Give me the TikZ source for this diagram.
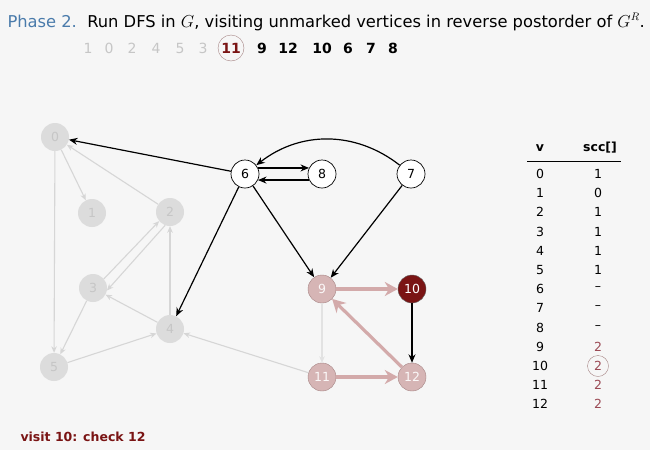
\documentclass[tikz,border=0pt]{standalone}
\usepackage{fontspec}
\setmainfont{DejaVu Sans}
\usepackage{xcolor}
\usetikzlibrary{arrows.meta}
\definecolor{bgc}{HTML}{F6F6F6}
\definecolor{phaseblue}{HTML}{4A7BAB}
\definecolor{grayfill}{HTML}{DCDCDC}
\definecolor{graytext}{HTML}{C6C6C6}
\definecolor{grayedge}{HTML}{D6D6D6}
\definecolor{pinkfill}{HTML}{D6B5B5}
\definecolor{pinkdraw}{HTML}{A58383}
\definecolor{pinkedge}{HTML}{D3AAAA}
\definecolor{darkred}{HTML}{7A1414}
\definecolor{sccred}{HTML}{9B4A55}

\tikzset{
  vtx/.style={circle, minimum size=28pt, inner sep=0pt, font=\fontsize{12.5}{12.5}\selectfont},
  done/.style={vtx, fill=grayfill, text=graytext},
  open/.style={vtx, draw, fill=white, line width=0.7pt},
  cur/.style={vtx, draw=pinkdraw, fill=pinkfill, text=white!90!pinkfill},
  act/.style={vtx, draw=black!60, fill=darkred, text=white},
  dim/.style={-{Stealth[length=6.5pt, width=5.5pt]}, draw=grayedge, line width=1.1pt},
  blk/.style={-{Stealth[length=8.5pt, width=7pt]}, line width=1.2pt},
  pnk/.style={-{Stealth[length=13pt, width=14pt]}, draw=pinkedge, line width=3.2pt},
  cell/.style={font=\fontsize{12.5}{12.5}\selectfont, inner sep=1pt},
  ord/.style={font=\fontsize{14}{14}\selectfont, inner sep=1pt},
  gone/.style={ord, text=graytext},
  todo/.style={ord, font=\fontsize{14}{14}\selectfont\bfseries},
}

\begin{document}
\begin{tikzpicture}[x=1pt, y=-1pt]
    \fill[bgc] (0,0) rectangle (650,450);
    \useasboundingbox (0,0) rectangle (650,450);

    % Heading
    \node[anchor=west, font=\fontsize{16.3}{16.3}\selectfont] (title) at (4,22)
      {\textcolor{phaseblue}{Phase 2.}\ \ Run DFS in $G$, visiting unmarked vertices in reverse postorder of $G^R$.};

    % Order
    \node[gone] (o1) at (88,48) {1};
    \node[gone] (o0) at (109,48) {0};
    \node[gone] (o2) at (132,48) {2};
    \node[gone] (o4) at (156,48) {4};
    \node[gone] (o5) at (180,48) {5};
    \node[gone] (o3) at (203,48) {3};
    \node[todo, circle, draw=pinkdraw, thin, text=darkred, minimum size=26pt] (o11) at (231,48) {11};
    \node[todo] (o9) at (262,48) {9};
    \node[todo] (o12) at (288,48) {12};
    \node[todo] (o10) at (322,48) {10};
    \node[todo] (o6) at (348,48) {6};
    \node[todo] (o7) at (371,48) {7};
    \node[todo] (o8) at (393,48) {8};

    % Nodes
    \node[done] (0) at (55,137) {0};
    \node[done] (1) at (92,213) {1};
    \node[done] (2) at (170,212) {2};
    \node[done] (3) at (93,288) {3};
    \node[done] (4) at (170,329) {4};
    \node[done] (5) at (54,367) {5};
    \node[open] (6) at (245,174) {6};
    \node[open] (8) at (322,174) {8};
    \node[open] (7) at (411,174) {7};
    \node[cur] (9) at (322,289) {9};
    \node[act] (10) at (412,289) {10};
    \node[cur] (11) at (322,377) {11};
    \node[cur] (12) at (412,377) {12};

    % Done edges
    \draw[dim] (0) -- (1);
    \draw[dim] (0) -- (5);
    \draw[dim] (2) -- (0);
    \draw[dim] (3.40) -- (2.-140);
    \draw[dim] (2.-110) -- (3.-10);
    \draw[dim] (3) -- (5);
    \draw[dim] (4) -- (2);
    \draw[dim] (4) -- (3);
    \draw[dim] (5) -- (4);
    \draw[dim] (11) -- (4);
    \draw[dim, draw=grayedge!70] (9) -- (11);

    % Checked edges
    \draw[blk] (6) -- (0);
    \draw[blk] (6) -- (4);
    \draw[blk] (6.25) -- (8.155);
    \draw[blk] (8.-155) -- (6.-25);
    \draw[blk] (6) -- (9);
    \draw[blk] (7) -- (9);
    \draw[blk] (7) to[bend right=38] (6);
    \draw[blk] (10) -- (12);

    % Tree edges
    \draw[pnk] (9) -- (10);
    \draw[pnk] (12) -- (9);
    \draw[pnk] (11) -- (12);

    % Table
    \node[cell, font=\fontsize{12.5}{12.5}\selectfont\bfseries] (hv) at (540,148) {v};
    \node[cell, font=\fontsize{12.5}{12.5}\selectfont\bfseries] (hs) at (600,148) {scc[]};
    \draw[line width=0.6pt] (527,161) -- (621,161);
    \node[cell] (v0) at (540,174) {0};   \node[cell] (s0) at (598,174) {1};
    \node[cell] (v1) at (540,193) {1};   \node[cell] (s1) at (598,193) {0};
    \node[cell] (v2) at (540,212) {2};   \node[cell] (s2) at (598,212) {1};
    \node[cell] (v3) at (540,232) {3};   \node[cell] (s3) at (598,232) {1};
    \node[cell] (v4) at (540,251) {4};   \node[cell] (s4) at (598,251) {1};
    \node[cell] (v5) at (540,270) {5};   \node[cell] (s5) at (598,270) {1};
    \node[cell] (v6) at (540,289) {6};   \node[cell] (s6) at (598,289) {–};
    \node[cell] (v7) at (540,308) {7};   \node[cell] (s7) at (598,308) {–};
    \node[cell] (v8) at (540,328) {8};   \node[cell] (s8) at (598,328) {–};
    \node[cell] (v9) at (540,347) {9};   \node[cell, text=sccred] (s9) at (598,347) {2};
    \node[cell] (v10) at (540,366) {10}; \node[cell, text=sccred, circle, draw=pinkdraw, minimum size=21pt] (s10) at (598,366) {2};
    \node[cell] (v11) at (540,385) {11}; \node[cell, text=sccred] (s11) at (598,385) {2};
    \node[cell] (v12) at (540,404) {12}; \node[cell, text=sccred] (s12) at (598,404) {2};

    % Status
    \node[anchor=west, text=darkred, font=\fontsize{12.5}{12.5}\selectfont\bfseries] (status) at (17,437) {visit 10: check 12};

\end{tikzpicture}
\end{document}
